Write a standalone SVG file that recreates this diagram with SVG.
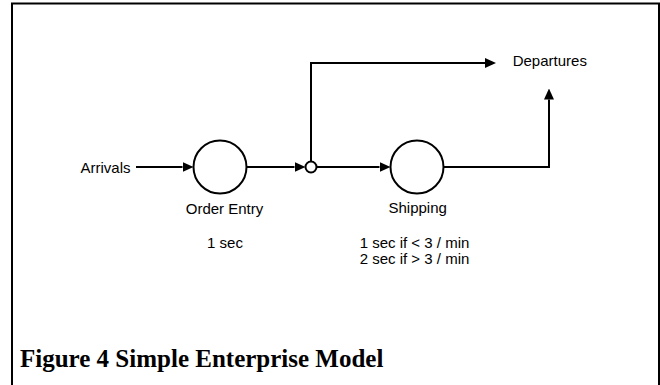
<svg xmlns="http://www.w3.org/2000/svg" width="660" height="385" viewBox="0 0 660 385">
  <style>
    .lbl { font-family: "Liberation Sans", Arial, sans-serif; font-size: 15px; fill: #000; }
    .ctr { text-anchor: middle; }
    .title { font-family: "Liberation Serif", "Times New Roman", serif; font-size: 25px; font-weight: bold; fill: #000; }
    .node { fill: #fff; stroke: #000; stroke-width: 2; }
    .edge { fill: none; stroke: #000; stroke-width: 2; marker-end: url(#ah); }
  </style>
  <defs>
    <marker id="ah" viewBox="0 0 11 10" refX="0" refY="5" markerWidth="11" markerHeight="10" markerUnits="userSpaceOnUse" orient="auto">
      <path d="M0,0 L11,5 L0,10 Z" fill="#000"/>
    </marker>
  </defs>
  <rect x="0" y="0" width="660" height="385" fill="#fff"/>
  <rect id="frame" x="12" y="3.5" width="647" height="420" fill="none" stroke="#000" stroke-width="2"/>

  <g id="connectors">
    <line class="edge" x1="136" y1="167" x2="182.5" y2="167"/>
    <line class="edge" x1="246.5" y1="167" x2="294.5" y2="167"/>
    <line class="edge" x1="316.5" y1="167" x2="379.5" y2="167"/>
    <polyline class="edge" points="443.5,167 549,167 549,99.5"/>
    <polyline class="edge" points="311,161.5 311,63 485,63"/>
  </g>

  <g id="arrivals">
    <text class="lbl" x="80.5" y="172.5">Arrivals</text>
  </g>
  <g id="order-entry">
    <circle class="node" cx="220" cy="167" r="26.5"/>
    <text class="lbl ctr" x="224.5" y="214">Order Entry</text>
    <text class="lbl ctr" x="225" y="248">1 sec</text>
  </g>
  <g id="junction">
    <circle class="node" cx="311" cy="167" r="5.5"/>
  </g>
  <g id="shipping">
    <circle class="node" cx="417" cy="167" r="26.5"/>
    <text class="lbl ctr" x="417.7" y="213.3">Shipping</text>
    <text class="lbl ctr" x="414.5" y="248">1 sec if &lt; 3 / min</text>
    <text class="lbl ctr" x="414.5" y="264">2 sec if &gt; 3 / min</text>
  </g>
  <g id="departures">
    <text class="lbl" x="512.7" y="66">Departures</text>
  </g>
  <g id="caption">
    <text class="title" x="20" y="366.5">Figure 4 Simple Enterprise Model</text>
  </g>
</svg>
